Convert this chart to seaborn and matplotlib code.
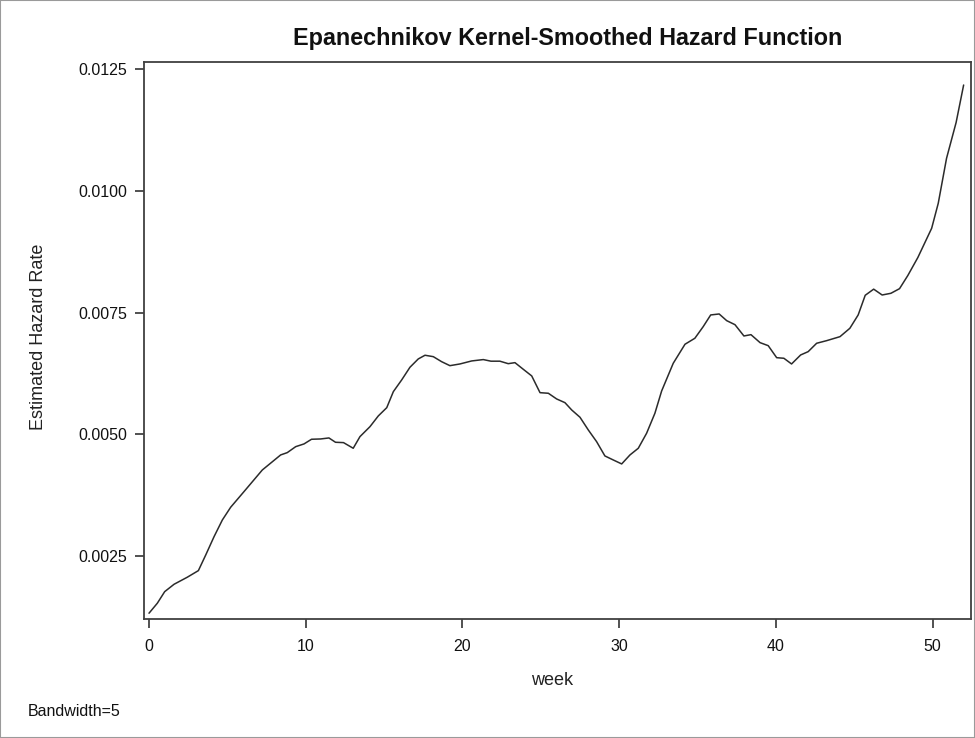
import matplotlib
matplotlib.use("Agg")
import matplotlib.pyplot as plt
import seaborn as sns
import pandas as pd
from matplotlib.ticker import FormatStrFormatter
from matplotlib.patches import Rectangle

week = [0.00, 0.53, 1.00, 1.60, 2.44, 3.15, 3.62, 4.15, 4.68, 5.21, 6.06, 7.23,
        8.40, 8.82, 9.36, 9.89, 10.37, 10.95, 11.48, 11.90, 12.41, 13.03, 13.46,
        14.10, 14.63, 15.17, 15.59, 16.12, 16.65, 17.18, 17.61, 18.14, 18.67,
        19.20, 19.84, 20.59, 21.33, 21.82, 22.39, 22.92, 23.35, 23.88, 24.42,
        24.95, 25.48, 26.01, 26.54, 26.97, 27.50, 28.03, 28.56, 29.09, 29.62,
        30.16, 30.69, 31.22, 31.75, 32.28, 32.71, 33.45, 34.20, 34.83, 35.36,
        35.84, 36.38, 36.86, 37.39, 37.96, 38.41, 38.99, 39.51, 40.05, 40.51,
        41.00, 41.58, 42.06, 42.60, 43.24, 44.09, 44.72, 45.25, 45.70, 46.24,
        46.78, 47.34, 47.89, 48.42, 49.06, 49.94, 50.36, 50.89, 51.50, 51.98]
hazard = [0.001325, 0.00153, 0.001768, 0.00192, 0.002064, 0.0022, 0.002522,
          0.002898, 0.003241, 0.003502, 0.003823, 0.004268, 0.004577, 0.004624,
          0.004747, 0.004803, 0.004899, 0.004905, 0.004926, 0.004837, 0.00483,
          0.004714, 0.004953, 0.005158, 0.005378, 0.005548, 0.005877, 0.006117,
          0.006378, 0.006549, 0.006625, 0.006596, 0.006493, 0.006411, 0.006446,
          0.006508, 0.006536, 0.006503, 0.006503, 0.006452, 0.006473, 0.006337,
          0.0062, 0.005856, 0.005844, 0.005727, 0.005651, 0.005501, 0.005351,
          0.00509, 0.00485, 0.004556, 0.004474, 0.004392, 0.004577, 0.004714,
          0.005022, 0.005433, 0.005891, 0.00646, 0.006851, 0.006974, 0.007212,
          0.007453, 0.007473, 0.007336, 0.007253, 0.007021, 0.007048, 0.006884,
          0.006822, 0.006575, 0.006563, 0.006446, 0.006631, 0.006699, 0.006871,
          0.006925, 0.007007, 0.007179, 0.007453, 0.007857, 0.007983, 0.007863,
          0.007898, 0.007993, 0.008264, 0.008634, 0.009234, 0.009747, 0.010672,
          0.011407, 0.012177]
x_ticks = [0, 10, 20, 30, 40, 50]
y_ticks = [0.0025, 0.0050, 0.0075, 0.0100, 0.0125]

df = pd.DataFrame({"week": week, "hazard": hazard})

sns.set_style("white")
plt.rcParams["font.family"] = ["Liberation Sans", "DejaVu Sans"]

fig = plt.figure(figsize=(9.75, 7.38), dpi=100)
ax = fig.add_axes([144 / 975, 1 - 619 / 738, (971 - 144) / 975, (619 - 62) / 738])

sns.lineplot(data=df, x="week", y="hazard", ax=ax, color="#2b2b2b", linewidth=1.1)

ax.set_xlim(-0.32, 52.45)
ax.set_ylim(0.001206, 0.01265)
ax.set_xticks(x_ticks)
ax.set_yticks(y_ticks)
ax.yaxis.set_major_formatter(FormatStrFormatter("%.4f"))
ax.tick_params(axis="both", direction="out", length=6.5, width=1.2, color="#333333",
               labelsize=11.5, labelcolor="#111111", bottom=True, left=True)
ax.tick_params(axis="y", pad=5.5)
ax.tick_params(axis="x", pad=8)

for s in ax.spines.values():
    s.set_color("#404040")
    s.set_linewidth(1.3)

ax.set_xlabel("week", fontsize=13, color="#222222")
ax.set_ylabel("Estimated Hazard Rate", fontsize=13, color="#222222")
ax.xaxis.set_label_coords((552 - 144) / 827, (619 - 672) / 557)
ax.yaxis.set_label_coords((47 - 144) / 827, (619 - 337) / 557)

fig.text(568 / 975, 1 - 38 / 738, "Epanechnikov Kernel-Smoothed Hazard Function",
         fontsize=16.8, fontweight="bold", color="#111111", ha="center", va="center")

fig.text(28 / 975, 1 - 712 / 738, "Bandwidth=5", fontsize=11.5, color="#111111",
         va="center", ha="left")

fig.patches.append(Rectangle((0, 0), 1, 1, transform=fig.transFigure, fill=False,
                             edgecolor="#9a9a9a", linewidth=1.5))

fig.savefig("out.png", dpi=100)
